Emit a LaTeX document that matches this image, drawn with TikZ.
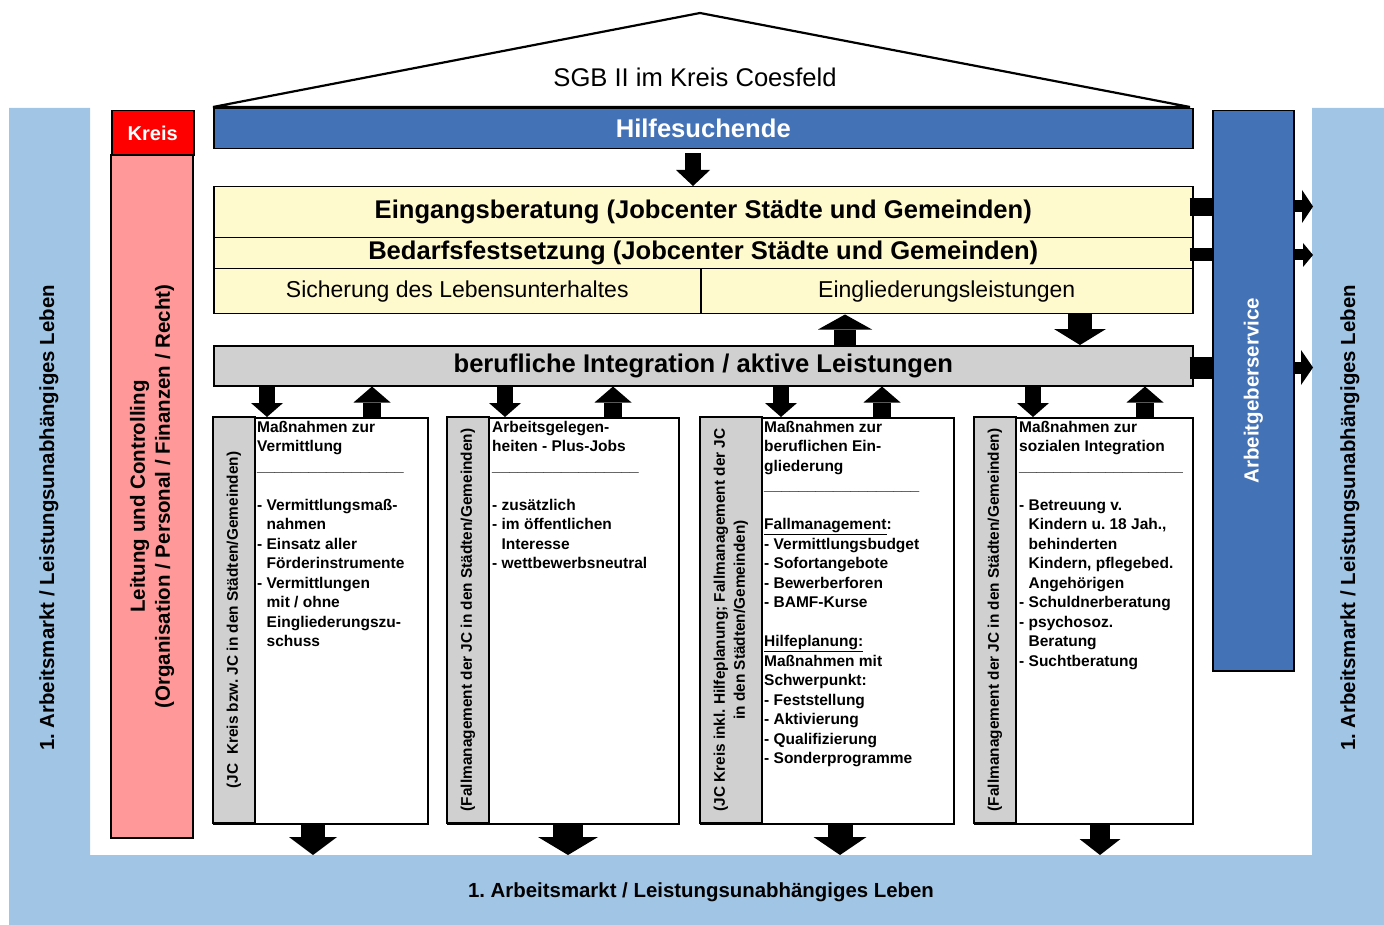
\documentclass[tikz,border=0pt]{standalone}
\usepackage{fontspec}
\usepackage{graphicx}
\setmainfont{Liberation Sans}
\usetikzlibrary{arrows.meta}
\frenchspacing

\definecolor{helpblue}{RGB}{68,114,182}
\definecolor{marketblue}{RGB}{160,197,229}
\definecolor{cream}{RGB}{255,250,205}
\definecolor{stripgray}{RGB}{208,208,208}
\definecolor{kreisred}{RGB}{255,0,0}
\definecolor{kreispink}{RGB}{255,153,153}

% indent of a continued list line
\newcommand\ind{\hphantom{-}\ }

\begin{document}
\begin{tikzpicture}[x=1pt,y=-1pt,
    box/.style={draw,line width=1.5pt,inner sep=0pt,anchor=north west},
    title/.style={font={\fontsize{25.6}{30}\selectfont\bfseries}},
    plain/.style={font={\fontsize{23}{28}\selectfont}},
    market/.style={font={\fontsize{20.4}{25}\selectfont\bfseries}},
    strip/.style={draw,line width=1.5pt,fill=stripgray,inner sep=0pt,
        rotate=90,align=center,
        font={\fontsize{15.4}{20}\selectfont\bfseries}},
    measures/.style={anchor=north west,inner sep=0pt,align=left,
        font={\fontsize{15.5}{19.5}\selectfont\bfseries}},
    fat/.style n args={3}{line width=#1,
        -{Triangle[width=#2,length=#3,line width=0pt]}},
    ]
    \useasboundingbox (0,0) rectangle (1384,925);

    % Labour market frame
    \fill[marketblue] (9,108) -- (90,108) -- (90,855) -- (1312,855)
        -- (1312,108) -- (1384,108) -- (1384,925) -- (9,925) -- cycle;
    \node[market,rotate=90] (marketL) at (49,518)
        {1. Arbeitsmarkt / Leistungsunabhängiges Leben};
    \node[market,rotate=90] (marketR) at (1350,518)
        {1. Arbeitsmarkt / Leistungsunabhängiges Leben};
    \node[market] (marketB) at (701,892)
        {1. Arbeitsmarkt / Leistungsunabhängiges Leben};
    \coordinate (ground) at (0,855);
    \coordinate (rightband) at (1313,0);

    % Roof
    \draw[line width=2.2pt] (213,107) -- (700,13) -- (1190,107) -- cycle;
    \node[font={\fontsize{25.6}{30}\selectfont}] (roof) at (695,77)
        {SGB II im Kreis Coesfeld};

    % Help seekers and counselling
    \node[box,title,fill=helpblue,text=white,minimum width=979pt,
        minimum height=40pt] (hilfe) at (213,108) {Hilfesuchende};
    \node[box,title,fill=cream,minimum width=979pt,minimum height=51pt]
        (eingang) at (213,186)
        {Eingangsberatung (Jobcenter Städte und Gemeinden)};
    \node[box,title,fill=cream,minimum width=979pt,minimum height=31pt]
        (bedarf) at (213,237)
        {Bedarfsfestsetzung (Jobcenter Städte und Gemeinden)};
    \node[box,plain,fill=cream,minimum width=487pt,minimum height=45pt]
        (sicher) at (213,268) {Sicherung des Lebensunterhaltes};
    \node[box,plain,fill=cream,minimum width=492pt,minimum height=45pt]
        (eingl) at (700,268) {Eingliederungsleistungen};
    \node[box,title,fill=stripgray,minimum width=979pt,minimum height=40pt]
        (berufl) at (213,345) {berufliche Integration / aktive Leistungen};

    % Kreis column
    \node[box,fill=kreisred,text=white,font={\fontsize{20}{24}\selectfont\bfseries},
        minimum width=82pt,minimum height=45pt] (kreis) at (111,110) {Kreis};
    \node[box,anchor=center,rotate=90,fill=kreispink,align=center,
        font={\fontsize{20.5}{25}\selectfont\bfseries},
        minimum width=683pt,minimum height=82pt] (leitung) at (152,496.5)
        {Leitung und Controlling\\(Organisation / Personal / Finanzen / Recht)};

    % Employer service
    \node[box,fill=helpblue,text=white,
        font={\fontsize{20.5}{25}\selectfont\bfseries},
        minimum width=81pt,minimum height=560pt] (ags) at (1212,110)
        {\rotatebox{90}{Arbeitgeberservice}};

    % Measures
    \node[box,minimum width=214pt,minimum height=406pt] (col1) at (213,417) {};
    \node[strip,minimum width=406pt,minimum height=42pt] (side1) at (234,620)
        {(JC~~Kreis bzw. JC in den Städten/Gemeinden)};
    \node[measures] (text1) at (257,421) {Maßnahmen zur\\
        Vermittlung\\
        \_\_\_\_\_\_\_\_\_\_\_\_\_\_\_\_\_\\[19.5pt]
        - Vermittlungsmaß-\\
        \ind nahmen\\
        - Einsatz aller\\
        \ind Förderinstrumente\\
        - Vermittlungen\\
        \ind mit / ohne\\
        \ind Eingliederungszu-\\
        \ind schuss};

    \node[box,minimum width=231pt,minimum height=406pt] (col2) at (447,417) {};
    \node[strip,minimum width=406pt,minimum height=42pt] (side2) at (468,620)
        {(Fallmanagement der JC in den Städten/Gemeinden)};
    \node[measures] (text2) at (492,421) {Arbeitsgelegen-\\
        heiten - Plus-Jobs\\
        \_\_\_\_\_\_\_\_\_\_\_\_\_\_\_\_\_\\[19.5pt]
        - zusätzlich\\
        - im öffentlichen\\
        \ind Interesse\\
        - wettbewerbsneutral};

    \node[box,minimum width=253pt,minimum height=406pt] (col3) at (700,417) {};
    \node[strip,minimum width=406pt,minimum height=62pt] (side3) at (731,620)
        {(JC Kreis inkl. Hilfeplanung; Fallmanagement der JC\\
        in den Städten/Gemeinden)};
    \node[measures] (text3) at (764,421) {Maßnahmen zur\\
        beruflichen Ein-\\
        gliederung\\
        \_\_\_\_\_\_\_\_\_\_\_\_\_\_\_\_\_\_\\[19.5pt]
        \underline{Fallmanagement}:\\
        - Vermittlungsbudget\\
        - Sofortangebote\\
        - Bewerberforen\\
        - BAMF-Kurse\\[19.5pt]
        \underline{Hilfeplanung:}\\
        Maßnahmen mit\\
        Schwerpunkt:\\
        - Feststellung\\
        - Aktivierung\\
        - Qualifizierung\\
        - Sonderprogramme};

    \node[box,minimum width=218pt,minimum height=406pt] (col4) at (974,417) {};
    \node[strip,minimum width=406pt,minimum height=42pt] (side4) at (995,620)
        {(Fallmanagement der JC in den Städten/Gemeinden)};
    \node[measures] (text4) at (1019,421) {Maßnahmen zur\\
        sozialen Integration\\
        \_\_\_\_\_\_\_\_\_\_\_\_\_\_\_\_\_\_\_\\[19.5pt]
        - Betreuung v.\\
        \ind Kindern u. 18 Jah.,\\
        \ind behinderten\\
        \ind Kindern, pflegebed.\\
        \ind Angehörigen\\
        - Schuldnerberatung\\
        - psychosoz.\\
        \ind Beratung\\
        - Suchtberatung};

    % Arrows down the house
    \draw[fat={16pt}{34pt}{16pt},shorten <=4pt]
        (hilfe.south -| 693,0) -- (eingang.north -| 693,0);
    \draw[fat={22pt}{54pt}{15pt}] (berufl.north -| 845,0) -- (eingl.south -| 845,0);
    \draw[fat={24pt}{52pt}{16pt}] (eingl.south -| 1080,0) -- (berufl.north -| 1080,0);

    % Arrows to and from the measures
    \draw[fat={16pt}{32pt}{14pt}] (berufl.south -| 267,0) -- (col1.north -| 267,0);
    \draw[fat={18pt}{37pt}{16pt}] (col1.north -| 372,0) -- (berufl.south -| 372,0);
    \draw[fat={16pt}{32pt}{14pt}] (berufl.south -| 505,0) -- (col2.north -| 505,0);
    \draw[fat={18pt}{37pt}{16pt}] (col2.north -| 613,0) -- (berufl.south -| 613,0);
    \draw[fat={16pt}{32pt}{14pt}] (berufl.south -| 781,0) -- (col3.north -| 781,0);
    \draw[fat={18pt}{37pt}{16pt}] (col3.north -| 882,0) -- (berufl.south -| 882,0);
    \draw[fat={16pt}{32pt}{14pt}] (berufl.south -| 1033,0) -- (col4.north -| 1033,0);
    \draw[fat={18pt}{37pt}{16pt}] (col4.north -| 1145,0) -- (berufl.south -| 1145,0);

    % Arrows into the labour market
    \draw[fat={24pt}{48pt}{18pt}] (col1.south -| 313,0) -- (ground -| 313,0);
    \draw[fat={30pt}{60pt}{18pt}] (col2.south -| 568,0) -- (ground -| 568,0);
    \draw[fat={25pt}{53pt}{18pt}] (col3.south -| 840,0) -- (ground -| 840,0);
    \draw[fat={20pt}{41pt}{16pt}] (col4.south -| 1100,0) -- (ground -| 1100,0);

    % Employer service links
    \draw[line width=18pt,shorten <=-4pt] (eingang.east |- 0,207) -- (ags.west |- 0,207);
    \draw[line width=13pt,shorten <=-4pt] (bedarf.east |- 0,254.5) -- (ags.west |- 0,254.5);
    \draw[line width=22pt,shorten <=-4pt] (berufl.east |- 0,368) -- (ags.west |- 0,368);
    \draw[fat={12pt}{33pt}{11pt}] (ags.east |- 0,206.5) -- (rightband |- 0,206.5);
    \draw[fat={11pt}{24pt}{10pt}] (ags.east |- 0,255) -- (rightband |- 0,255);
    \draw[fat={12pt}{35pt}{12pt}] (ags.east |- 0,367.5) -- (rightband |- 0,367.5);
\end{tikzpicture}
\end{document}
